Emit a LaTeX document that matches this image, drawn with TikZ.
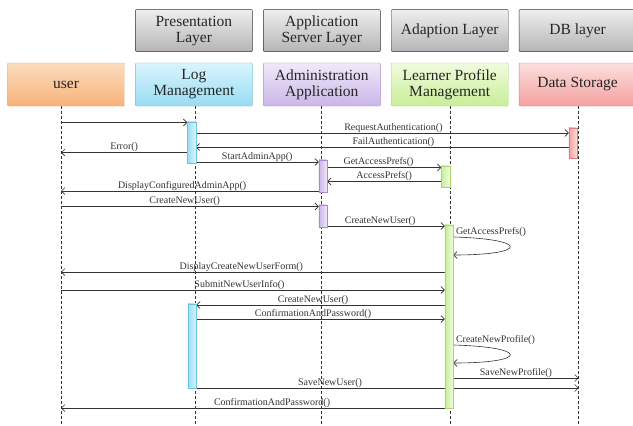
\documentclass[tikz,border=0pt]{standalone}
\usepackage{fontspec}
\setmainfont{Liberation Serif}
\usetikzlibrary{positioning,arrows.meta}

\definecolor{inkgray}{HTML}{333333}
\definecolor{usrtop}{HTML}{FCDDBE}\definecolor{usrbot}{HTML}{F7B27A}\definecolor{usrline}{HTML}{EFA76C}
\definecolor{logtop}{HTML}{D9F5FD}\definecolor{logbot}{HTML}{98DCF3}\definecolor{logline}{HTML}{6EC3E0}
\definecolor{admtop}{HTML}{F0E9F9}\definecolor{admbot}{HTML}{CBB6E9}\definecolor{admline}{HTML}{A68BD0}
\definecolor{lrntop}{HTML}{F1FBDD}\definecolor{lrnbot}{HTML}{C8EE98}\definecolor{lrnline}{HTML}{A8D56C}
\definecolor{dattop}{HTML}{FDDEDE}\definecolor{datbot}{HTML}{F4A1A1}\definecolor{datline}{HTML}{DE7C7C}

\begin{document}
\begin{tikzpicture}[x=1pt,y=-1pt,node distance=10.5pt,
	actor/.style = {draw, rounded corners=1pt, minimum width=117pt, minimum height=43pt,
		inner sep=1pt, align=center, text=black!85, font=\fontsize{15.5}{16}\selectfont},
	layer/.style = {actor, draw=inkgray, top color=gray!13, bottom color=gray!58, minimum height=42pt},
	bar/.style = {draw, minimum width=8pt, inner sep=0pt},
	life/.style = {draw=inkgray, line width=0.6pt, dash pattern=on 3pt off 2pt},
	msg/.style = {draw=inkgray, line width=0.6pt, -{Straight Barb[length=3.5pt,width=7pt]}},
	lbl/.style = {font=\fontsize{10}{11}\selectfont, inner sep=0.5pt, text=black!80}]
	\useasboundingbox (0,0) rectangle (633,426);
	
	% lifeline heads
	\node[actor, draw=usrline, top color=usrtop, bottom color=usrbot] (usr) at (66,84.5) {user};
	\node[actor, draw=logline, top color=logtop, bottom color=logbot, right=of usr] (logm) {Log\\Management};
	\node[actor, draw=admline, top color=admtop, bottom color=admbot, right=of logm] (adm) {Administration\\Application};
	\node[actor, draw=lrnline, top color=lrntop, bottom color=lrnbot, right=of adm] (lrn) {Learner Profile\\Management};
	\node[actor, draw=datline, top color=dattop, bottom color=datbot, right=of lrn] (dat) {Data Storage};
	
	% layers
	\node[layer, above=11pt of logm] (pres) {Presentation\\Layer};
	\node[layer, above=11pt of adm] (appsrv) {Application\\Server Layer};
	\node[layer, above=11pt of lrn] (adapt) {Adaption Layer};
	\node[layer, above=11pt of dat] (dbl) {DB layer};
	
	% lifelines
	\foreach \n/\dx in {usr/-5, logm/1.5, adm/-1, lrn/0.5, dat/1} {
		\coordinate (\n L) at ([xshift=\dx pt]\n.south);
		\draw[life] (\n L) -- (\n L |- 0,426);
	}
	
	% activation bars (positions only, drawn later)
	\path
	(191.5,142.5) node[bar, minimum height=41pt] (logA) {}
	(573,143) node[bar, minimum height=30pt] (datA) {}
	(323,176) node[bar, minimum height=32pt] (admA) {}
	(445.5,176.5) node[bar, minimum height=21pt] (lrnA) {}
	(323,216) node[bar, minimum height=22pt] (admB) {}
	(449,316.5) node[bar, minimum height=183pt] (lrnB) {}
	(192,346) node[bar, minimum height=84pt] (logB) {};
	
	% messages
	\draw[msg] (usrL |- 0,122.5) -- (logA.west |- 0,122.5);
	\draw[msg] (logA.east |- 0,133) -- node[lbl, above, pos=.53] {RequestAuthentication()} (datA.west |- 0,133);
	\draw[msg] (datA.west |- 0,147) -- node[lbl, above, pos=.47] {FailAuthentication()} (logA.east |- 0,147);
	\draw[msg] (logA.west |- 0,152.5) -- node[lbl, above] {Error()} (usrL |- 0,152.5);
	\draw[msg] (logA.east |- 0,162) -- node[lbl, above] {StartAdminApp()} (admA.west |- 0,162);
	\draw[msg] (admA.east |- 0,167.5) -- node[lbl, above, pos=.45] {GetAccessPrefs()} (lrnA.west |- 0,167.5);
	\draw[msg] (lrnA.west |- 0,181.5) -- node[lbl, above] {AccessPrefs()} (admA.east |- 0,181.5);
	\draw[msg] (admA.west |- 0,191) -- node[lbl, above, pos=.53] {DisplayConfiguredAdminApp()} (usrL |- 0,191);
	\draw[msg] (usrL |- 0,206.5) -- node[lbl, above, pos=.48] {CreateNewUser()} (admB.west |- 0,206.5);
	\draw[msg] (admB.east |- 0,226) -- node[lbl, above, pos=.45] {CreateNewUser()} (lrnB.west |- 0,226);
	\draw[msg] (lrnB.east |- 0,237) .. controls +(76,2) and +(76,0) .. (lrnB.east |- 0,255)
		node[lbl, at start, anchor=south west, xshift=2pt] {GetAccessPrefs()};
	\draw[msg] (lrnB.west |- 0,272) -- node[lbl, above, pos=.53] {DisplayCreateNewUserForm()} (usrL |- 0,272);
	\draw[msg] (usrL |- 0,290) -- node[lbl, above, pos=.465] {SubmitNewUserInfo()} (lrnB.west |- 0,290);
	\draw[msg] (lrnB.west |- 0,305) -- node[lbl, above, pos=.53] {CreateNewUser()} (logB.east |- 0,305);
	\draw[msg] (logB.east |- 0,319) -- node[lbl, above, pos=.47] {ConfirmationAndPassword()} (lrnB.west |- 0,319);
	\draw[msg] (lrnB.east |- 0,345) .. controls +(76,2) and +(76,0) .. (lrnB.east |- 0,363)
		node[lbl, at start, anchor=south west, xshift=2pt] {CreateNewProfile()};
	\draw[msg] (lrnB.east |- 0,378) -- node[lbl, above] {SaveNewProfile()} (datL |- 0,378);
	\draw[msg] (logB.east |- 0,388) -- node[lbl, above, pos=.35] {SaveNewUser()} (datL |- 0,388);
	\draw[msg] (lrnB.west |- 0,408) -- node[lbl, above, pos=.45] {ConfirmationAndPassword()} (usrL |- 0,408);
	
	% activation bars
	\foreach \b/\c in {logA/log, logB/log, datA/dat, admA/adm, admB/adm, lrnA/lrn, lrnB/lrn}
		\path[draw=\c line, left color=\c bot, right color=\c top]
			(\b.north west) rectangle (\b.south east);
\end{tikzpicture}
\end{document}
